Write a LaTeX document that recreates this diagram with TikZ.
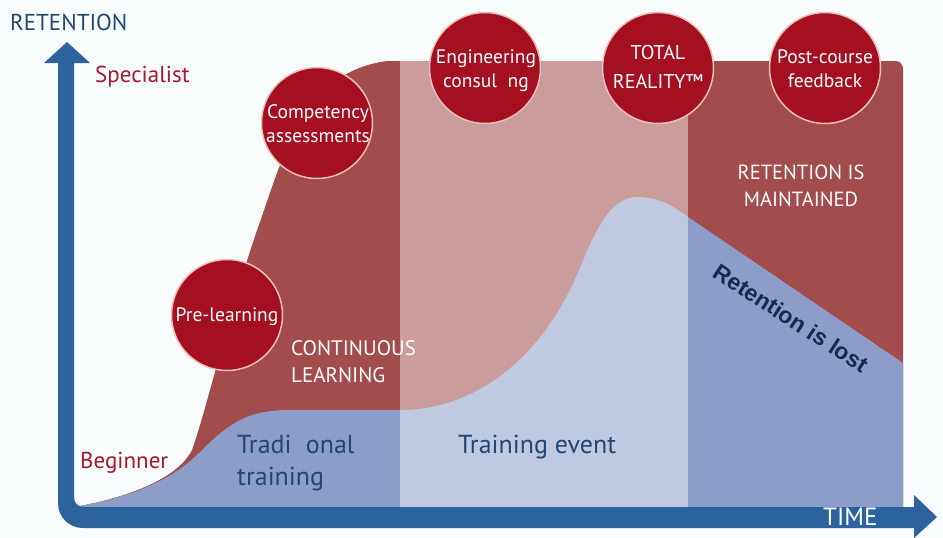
\documentclass[tikz,border=0pt]{standalone}
\usepackage{fontspec}
\setmainfont{PT Sans}
\newfontfamily\arialfont{Liberation Sans}
\definecolor{bgc}{RGB}{248,252,253}
\definecolor{axisblue}{RGB}{44,98,158}
\definecolor{navy}{RGB}{30,72,118}
\definecolor{darknavy}{RGB}{24,40,78}
\definecolor{redarea}{RGB}{162,76,76}
\definecolor{bluearea}{RGB}{140,157,202}
\definecolor{circred}{RGB}{165,16,32}
\definecolor{circedge}{RGB}{236,192,186}
\definecolor{labelred}{RGB}{168,24,44}
\begin{document}
\begin{tikzpicture}[x=1pt,y=-1pt,
  circ/.style={circle, fill=circred, draw=circedge, line width=1.5pt, minimum size=111pt, inner sep=0pt},
  circtext/.style={text=white, align=center, font=\fontsize{19.5}{24}\selectfont, inner sep=0pt},
  axislabel/.style={text=navy, font=\fontsize{23}{25}\selectfont, inner sep=0pt},
  levellabel/.style={text=labelred, font=\fontsize{23}{24}\selectfont, inner sep=0pt, anchor=west},
  whitelabel/.style={text=white, font=\fontsize{21}{27}\selectfont, inner sep=0pt},
  bluelabel/.style={text=navy, font=\fontsize{26}{32}\selectfont, inner sep=0pt, anchor=west, align=left}]
\fill[bgc] (0,0) rectangle (943,538);
\useasboundingbox (0,0) rectangle (943,538);
% red area
\fill[redarea] (75,507) .. controls (130,497) and (178,478) .. (192,450)
  .. controls (208,405) and (232,300) .. (260,222)
  .. controls (285,150) and (305,72) .. (387,61) -- (895,61)
  .. controls (900,61) and (903,64) .. (903,69) -- (903,507) -- cycle;
% blue area
\fill[bluearea] (75,507) .. controls (130,497) and (170,482) .. (200,452)
  .. controls (232,420) and (250,410) .. (292,410) -- (400,410)
  .. controls (470,410) and (540,365) .. (580,268)
  .. controls (600,218) and (615,197) .. (638,197)
  .. controls (660,197) and (674,207) .. (688,217) -- (903,363) -- (903,507) -- cycle;
% lighter middle band
\fill[white, opacity=0.45] (400,61) rectangle (688,507);
% axes
\fill[axisblue] (58,63) -- (58,503) .. controls (58,517) and (69,528) .. (83,528)
  -- (914,528) -- (914,538) -- (937,517) -- (914,495) -- (914,507)
  -- (84,507) .. controls (78,507) and (74,503) .. (74,497) -- (74,63)
  -- (90,63) -- (67,42) -- (44,63) -- cycle;
% axis and level labels
\node[axislabel, anchor=west] (ret) at (10,22) {RETENTION};
\node[text=white, font=\fontsize{25}{25}\selectfont, inner sep=0pt, anchor=west] (time) at (823,517) {TIME};
\node[levellabel] (spec) at (95,77) {Specialist};
\node[levellabel] (beg) at (80,463) {Beginner};
% area labels
\node[whitelabel, anchor=west, align=left] (cont) at (291,362) {CONTINUOUS\\LEARNING};
\node[text=white, font=\fontsize{20.5}{27}\selectfont, inner sep=0pt, align=center] (maint) at (801,186) {RETENTION IS\\MAINTAINED};
\node[bluelabel] (trad) at (237,463) {Tradi\hspace{0.55em}onal\\training};
\node[bluelabel] (event) at (458,447) {Training event};
\node[text=darknavy, font=\arialfont\bfseries\fontsize{23}{25}\selectfont, inner sep=0pt, rotate=-33] (lost) at (791,318) {Retention is lost};
% circles
\node[circ] (pre) at (227,315) {};
\node[circtext] at (227,317) {Pre-learning};
\node[circ] (comp) at (317,123) {};
\node[circtext] at (318,124) {Competency\\assessments};
\node[circ] (eng) at (485,68) {};
\node[circtext] at (486,71) {Engineering\\consul\hspace{0.55em}ng};
\node[circ] (total) at (658,68) {};
\node[circtext, font=\fontsize{20}{29}\selectfont] at (658,67) {TOTAL\\REALITY™};
\node[circ] (post) at (825,68) {};
\node[circtext] at (825,69) {Post-course\\feedback};
\end{tikzpicture}
\end{document}
